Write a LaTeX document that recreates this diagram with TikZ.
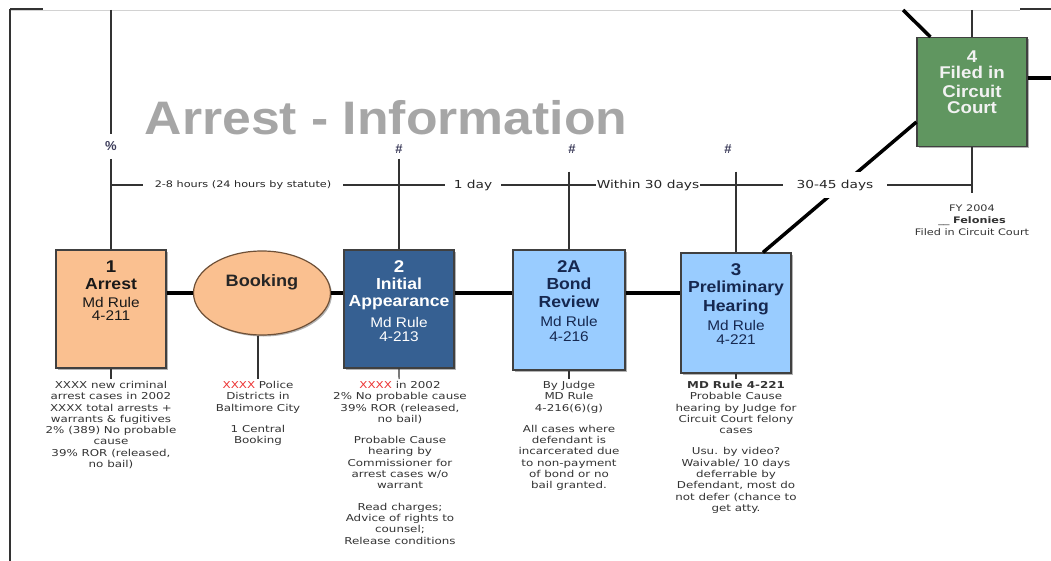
\documentclass[tikz,border=0pt]{standalone}
\usepackage{fontspec}
\setmainfont{Liberation Sans}
\newfontfamily\boxfont[FakeStretch=1.1]{Liberation Sans}
\newfontfamily\notefont[FakeStretch=1.25]{DejaVu Sans}
\usepackage{tikz}
\usetikzlibrary{positioning,shapes.geometric,shadows}

\definecolor{peach}{RGB}{250,192,144}
\definecolor{peachline}{RGB}{110,80,55}
\definecolor{navybox}{RGB}{54,96,146}
\definecolor{skybox}{RGB}{153,204,255}
\definecolor{navytext}{RGB}{22,40,80}
\definecolor{courtgreen}{RGB}{96,150,96}
\definecolor{titlegray}{RGB}{166,166,166}
\definecolor{markgray}{RGB}{60,60,90}
\definecolor{xred}{RGB}{235,50,50}

\newcommand{\numf}{\bfseries\fontsize{17}{17}\selectfont}
\newcommand{\ttlf}{\bfseries\fontsize{16}{16}\selectfont}
\newcommand{\xred}{\textcolor{xred}{XXXX}}

\begin{document}
\begin{tikzpicture}[x=1pt,y=-1pt,
  stagebox/.style={draw=black!75,line width=1.2pt,minimum width=110pt,minimum height=118pt,inner sep=0pt,
    drop shadow={shadow xshift=1.5pt,shadow yshift=-1.5pt,opacity=0.6}},
  stagetext/.style={align=center,inner sep=0pt,font=\boxfont\fontsize{14}{13}\selectfont},
  notetext/.style={align=center,anchor=north,inner sep=2pt,text=black!80,font=\notefont\fontsize{9.5}{11.3}\selectfont},
  flowline/.style={line width=3.5pt},
  timeline/.style={line width=1.2pt,black!80},
  gaplabel/.style={fill=white,inner ysep=2pt,inner xsep=10pt,text=black!85,font=\notefont\fontsize{11}{11}\selectfont},
  hashmark/.style={inner sep=2pt,text=markgray,font=\bfseries\fontsize{13}{13}\selectfont}]
  \useasboundingbox (0,0) rectangle (1051,561);

  % page frame
  \draw[gray!35,line width=0.8pt] (10,10) -- (1020,10);
  \draw[black!80,line width=1.5pt] (10,9) -- (10,561);
  \draw[black!80,line width=1.2pt] (10,9) -- (43,9);
  \draw[black!80,line width=1.2pt] (1020,9) -- (1051,9);

  \node[inner sep=0pt,text=titlegray,font=\boxfont\bfseries\fontsize{47}{47}\selectfont,anchor=base] (title) at (386,135) {Arrest - Information};

  % stages
  \node[stagebox,fill=peach] (arrest) at (111,309) {};
  \node[stagetext,text=black!90,below=11pt of arrest.north] (arresttxt) {{\numf 1}\\[4pt]{\ttlf Arrest}\\[5pt]Md Rule\\4-211};

  \node[ellipse,draw=peachline,line width=1.2pt,fill=peach,minimum width=137pt,minimum height=84pt,
    drop shadow={shadow xshift=1.5pt,shadow yshift=-1.5pt,opacity=0.6}] (booking) at (262,293) {};
  \node[text=black!85,font=\boxfont\bfseries\fontsize{16.5}{16.5}\selectfont] (bookingtxt) at (262,282) {Booking};

  \node[stagebox,fill=navybox] (initial) at (399,309) {};
  \node[stagetext,text=white,below=11pt of initial.north] (initialtxt) {{\numf 2}\\[4pt]{\ttlf Initial}\\[4pt]{\ttlf Appearance}\\[7pt]Md Rule\\[1pt]4-213};

  \node[stagebox,fill=skybox,minimum width=112pt,minimum height=120pt] (bond) at (569,310) {};
  \node[stagetext,text=navytext,below=11pt of bond.north] (bondtxt) {{\numf 2A}\\[4pt]{\ttlf Bond}\\[5pt]{\ttlf Review}\\[6pt]Md Rule\\[2pt]4-216};

  \node[stagebox,fill=skybox,minimum height=120pt] (prelim) at (736,313) {};
  \node[stagetext,text=navytext,below=11pt of prelim.north] (prelimtxt) {{\numf 3}\\[4pt]{\ttlf Preliminary}\\[3pt]{\ttlf Hearing}\\[5pt]Md Rule\\[1pt]4-221};

  \node[stagebox,fill=courtgreen,minimum height=109pt] (court) at (972,92) {};
  \node[stagetext,text=white!95!black,below=14pt of court.north,font=\boxfont\bfseries\fontsize{17}{15}\selectfont] (courttxt) {4\\[1pt]Filed in\\[4pt]Circuit\\[1pt]Court};

  % main flow
  \draw[flowline] (arrest.east |- booking.west) -- (booking.west);
  \draw[flowline] (booking.east) -- (initial.west |- booking.east);
  \draw[flowline] (initial.east |- booking.east) -- (bond.west |- booking.east);
  \draw[flowline] (bond.east |- booking.east) -- (prelim.west |- booking.east);
  \draw[flowline] ([xshift=27pt]prelim.north) -- ([yshift=-30pt]court.west);
  \coordinate (intop) at (903,10);
  \draw[flowline] (intop) -- ([xshift=14pt]court.north west);
  \coordinate (outright) at (1051,78);
  \draw[flowline] (court.east |- outright) -- (outright);

  % time line
  \coordinate (ltop) at (111,10);
  \node[hashmark] (pct) at (111,146) {\%};
  \draw[timeline,shorten >=5pt] (ltop) -- (pct);
  \draw[timeline,shorten <=6pt] (pct) -- (arrest.north);
  \node[hashmark] (h2) at (399,149) {\#};
  \draw[timeline,shorten <=3pt] (h2) -- (initial.north);
  \node[hashmark] (h2a) at (572,149) {\#};
  \draw[timeline,shorten <=16pt] (h2a.south -| bond.north) -- (bond.north);
  \node[hashmark] (h3) at (728,149) {\#};
  \draw[timeline,shorten <=16pt] (h3.south -| prelim.north) -- (prelim.north);

  \coordinate (tstart) at (111,185);
  \coordinate (tend) at (972,185);
  \draw[timeline] (tstart) -- (tend);
  \coordinate (ctop) at (972,10);
  \draw[timeline] (ctop) -- (court.north);
  \coordinate (fend) at (972,193);
  \draw[timeline] (court.south) -- (fend);

  \node[gaplabel,font=\notefont\fontsize{9}{9}\selectfont,inner xsep=12pt] (hours) at (243,185) {2-8 hours (24 hours by statute)};
  \node[gaplabel,inner xsep=9pt] (oneday) at (473,185) {1 day};
  \node[gaplabel,inner xsep=1pt] (within) at (648,185) {Within 30 days};
  \node[gaplabel,inner xsep=14pt,inner ysep=8pt] (later) at (835,185) {30-45 days};

  % notes
  \node[notetext] (arrestnote) at (111,379) {XXXX new criminal\\arrest cases in 2002\\XXXX total arrests +\\warrants \& fugitives\\2\% (389) No probable\\cause\\39\% ROR (released,\\no bail)};
  \draw[timeline] (arrest.south) -- (arrestnote);

  \node[notetext] (bookingnote) at (258,379) {\xred{} Police\\Districts in\\Baltimore City\\[10pt]1 Central\\Booking};
  \draw[timeline] (bookingnote.north |- booking.south) -- (bookingnote);

  \node[notetext] (initialnote) at (400,379) {\xred{} in 2002\\2\% No probable cause\\39\% ROR (released,\\no bail)\\[10pt]Probable Cause\\hearing by\\Commissioner for\\arrest cases w/o\\warrant\\[10pt]Read charges;\\Advice of rights to\\counsel;\\Release conditions};
  \draw[timeline] (initial.south) -- (initialnote);

  \node[notetext] (bondnote) at (569,379) {By Judge\\MD Rule\\4-216(6)(g)\\[10pt]All cases where\\defendant is\\incarcerated due\\to non-payment\\of bond or no\\bail granted.};
  \draw[timeline] (bond.south) -- (bondnote);

  \node[notetext] (prelimnote) at (736,379) {{\bfseries MD Rule 4-221}\\Probable Cause\\hearing by Judge for\\Circuit Court felony\\cases\\[10pt]Usu. by video?\\Waivable/ 10 days\\deferrable by\\Defendant, most do\\not defer (chance to\\get atty.};
  \draw[timeline] (prelim.south) -- (prelimnote);

  \node[notetext,font=\notefont\fontsize{9}{12}\selectfont] (courtnote) at (972,203) {FY 2004\\\_\_ {\bfseries Felonies}\\Filed in Circuit Court};
\end{tikzpicture}
\end{document}
